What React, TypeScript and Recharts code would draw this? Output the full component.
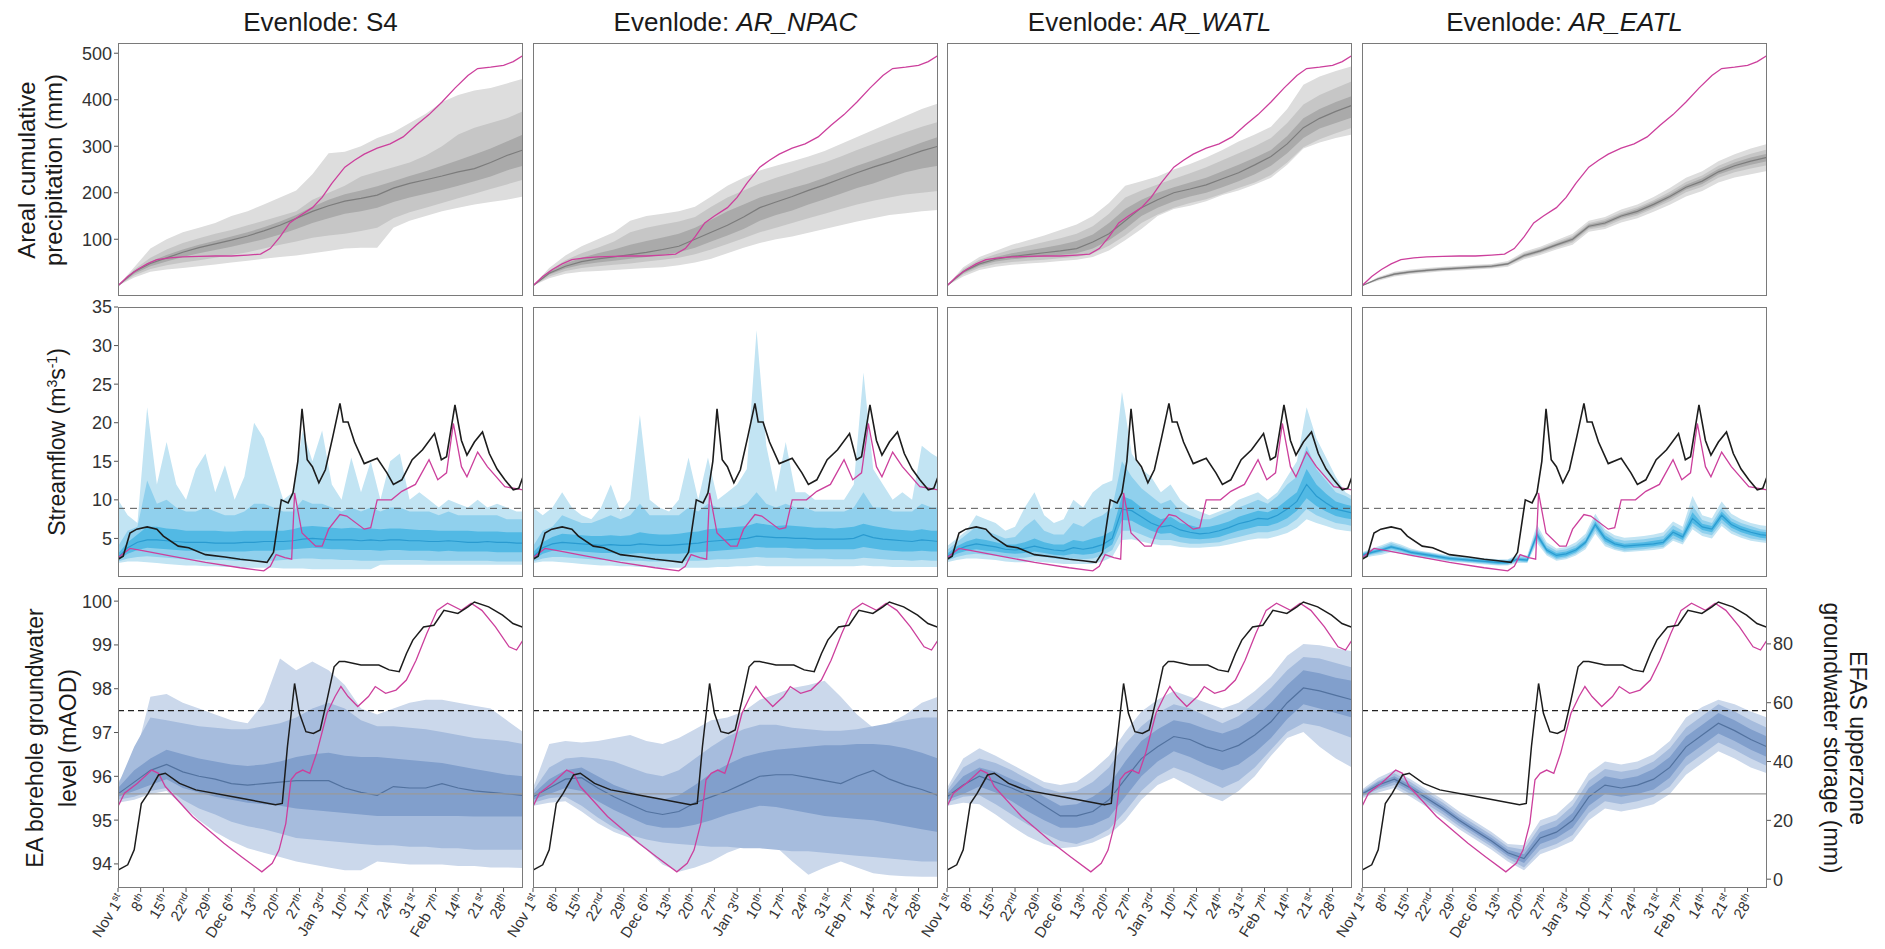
import React from 'react'
import { ComposedChart, Area, Line, XAxis, YAxis, ReferenceLine } from 'recharts'

// day 0 = Nov 1st
const days5 = [0,5,10,15,20,25,30,35,40,45,50,55,60,65,70,75,80,85,90,95,100,105,110,115,120,125]
const days3 = [0,3,6,9,12,15,18,21,24,27,30,33,36,39,42,45,48,51,54,57,60,63,66,69,72,75,78,81,84,87,90,93,96,99,102,105,108,111,114,117,120,123,125]

const tickDays = [0,7,14,21,28,35,42,49,56,63,70,77,84,91,98,105,112,119]
const tickMain = ['Nov 1','8','15','22','29','Dec 6','13','20','27','Jan 3','10','17','24','31','Feb 7','14','21','28']
const tickSup = ['st','th','th','nd','th','th','th','th','th','rd','th','th','th','st','th','th','st','th']

const models = ['S4', 'AR_NPAC', 'AR_WATL', 'AR_EATL']

// ---- areal cumulative precipitation (mm), 5-day steps
const pS4Max = [0,40,80,100,115,125,135,150,160,175,190,205,240,285,288,300,318,330,350,370,395,410,420,425,435,445]
const pS4P90 = [0,35,60,78,92,102,112,120,130,140,150,160,185,200,215,235,245,255,265,280,300,325,340,350,360,375]
const pS4P75 = [0,32,52,66,78,88,97,106,115,126,138,152,170,185,197,205,214,225,236,246,258,270,282,295,310,325]
const pS4Med = [0,30,48,60,72,82,90,98,107,118,130,145,160,172,182,188,195,210,220,228,236,245,252,265,280,292]
const pS4P25 = [0,26,42,52,62,70,77,84,92,100,110,122,135,145,155,160,168,180,190,198,206,215,225,235,248,258]
const pS4P10 = [0,22,36,44,50,55,60,66,72,80,88,95,103,108,112,118,125,145,158,168,178,188,198,208,218,228]
const pS4Min = [0,18,30,35,38,42,46,50,54,58,62,65,70,75,80,82,82,125,140,150,160,168,175,180,185,192]

const pNpMax = [0,38,65,85,100,115,140,150,155,160,170,192,215,232,248,258,268,278,290,305,320,335,350,365,380,392]
const pNpP90 = [0,33,55,70,82,95,115,125,132,138,148,170,190,205,220,232,243,255,265,278,292,305,318,330,342,352]
const pNpP75 = [0,30,48,60,70,78,88,96,104,112,125,142,160,175,190,200,210,220,232,245,258,270,282,295,308,320]
const pNpMed = [0,27,42,52,58,62,67,72,78,85,100,115,130,148,168,180,192,205,217,230,243,255,266,278,290,300]
const pNpP25 = [0,24,37,45,50,54,58,62,66,72,82,95,108,122,140,152,162,175,186,198,210,220,232,244,252,258]
const pNpP10 = [0,20,32,38,42,45,48,52,56,60,68,78,90,102,115,125,135,145,155,165,175,183,190,196,200,204]
const pNpMin = [0,16,26,30,32,34,36,38,40,44,50,58,70,82,92,100,106,114,122,130,138,145,152,156,160,163]

const pWaMax = [0,40,62,75,88,98,108,120,132,150,178,215,225,235,250,262,276,292,310,325,342,380,432,450,462,472]
const pWaP90 = [0,36,56,68,78,86,94,102,112,128,155,190,205,218,230,242,255,270,285,300,318,350,390,410,425,440]
const pWaP75 = [0,33,51,62,70,76,82,88,96,110,135,165,185,200,212,222,232,246,260,275,292,322,360,380,395,408]
const pWaMed = [0,30,47,57,63,67,71,75,80,94,112,140,168,185,200,208,217,230,243,260,278,305,340,360,375,388]
const pWaP25 = [0,27,43,52,57,60,63,66,70,80,98,122,150,168,182,192,200,212,225,240,258,285,318,338,350,362]
const pWaP10 = [0,24,39,47,51,54,56,59,62,70,86,108,135,153,168,178,186,198,210,222,238,265,298,315,328,340]
const pWaMin = [0,20,34,41,45,48,50,53,56,62,76,98,122,150,165,172,182,195,205,218,232,260,295,308,318,325]

const pEaMax = [0,19,30,35,38,41,43,45,47,53,73,84,98,112,140,148,164,175,191,210,232,246,268,283,295,305]
const pEaP90 = [0,17,28,33,36,39,41,43,45,50,70,80,94,107,135,143,158,169,184,202,223,237,258,272,284,293]
const pEaP75 = [0,16,27,32,35,38,40,42,44,49,68,78,91,104,132,139,154,165,180,197,217,231,251,265,276,284]
const pEaMed = [0,15,25,30,33,36,38,40,42,47,65,75,88,100,128,135,150,160,175,192,212,225,245,258,268,276]
const pEaP25 = [0,14,23,28,31,34,36,38,40,45,62,72,85,96,124,131,146,155,170,187,207,219,239,251,260,268]
const pEaP10 = [0,13,22,27,30,33,35,37,39,44,60,70,82,93,121,127,142,151,166,182,201,213,232,244,252,259]
const pEaMin = [0,11,20,25,28,31,33,35,37,41,57,66,78,88,116,122,136,145,159,174,192,204,222,233,240,247]

const precipObsDays = [0,3,6,9,12,16,20,25,30,35,40,44,47,50,53,56,60,63,66,70,73,76,80,84,88,92,96,100,104,108,111,115,119,122,125]
const precipObs = [0,20,35,47,56,60,62,63,64,64,66,68,80,105,135,150,168,190,220,255,270,283,296,305,320,345,368,395,425,452,467,470,474,482,495]

// ---- streamflow (m3/s), 3-day steps
const fS4Max = [10,8,7,22,12,17.5,12,10,14,16,11, 14.5,10,13,20,18,14,10,11,19,15,19, 12,10,15.5,11,15,10,15,16,10,11,10, 9,10,9.5,9,10,9,9.5,9,8.5,8.5]
const fS4P90 = [4,6,6.5,12.5,9.5,10,9,8.5,8.5,9,8.5, 8,8,8.5,9.5,9.5,9,8.5,8.5,10,9.5,9.5, 9,8.5,9,8.5,9,8.5,9,9,8.5,8.5,8.5, 8,8.5,8,8,8,8,8,7.5,7.5,7.5]
const fS4P75 = [3,4.5,5.5,6.5,6.5,6.3,6.2,6,6,6,6, 5.9,5.9,6,6,6,6,6,6.2,6.5,6.6,6.5, 6.4,6.3,6.4,6.3,6.3,6.2,6.3,6.3,6.2,6.1,6.1, 6,6,6,6,5.9,5.9,5.9,5.8,5.8,5.8]
const fS4Med = [2.5,3.8,4.5,4.8,4.8,4.7,4.6,4.5,4.5,4.5,4.4, 4.4,4.4,4.5,4.5,4.6,4.6,4.6,4.7,4.9,5,4.9, 4.8,4.8,4.8,4.7,4.8,4.7,4.8,4.8,4.7,4.7,4.6, 4.6,4.7,4.6,4.5,4.5,4.6,4.5,4.5,4.4,4.4]
const fS4P25 = [2.2,3,3.5,3.8,3.7,3.6,3.5,3.4,3.4,3.3,3.3, 3.3,3.3,3.3,3.4,3.4,3.4,3.5,3.6,3.7,3.8,3.7, 3.6,3.6,3.5,3.5,3.5,3.4,3.5,3.5,3.4,3.4,3.4, 3.3,3.4,3.3,3.3,3.3,3.3,3.2,3.2,3.2,3.2]
const fS4P10 = [2,2.4,2.6,2.7,2.6,2.5,2.4,2.3,2.3,2.2,2.2, 2.2,2.1,2.1,2.1,2.1,2.1,2.2,2.3,2.4,2.4,2.3, 2.3,2.2,2.2,2.1,2.1,2.1,2.2,2.2,2.2,2.2,2.1, 2.1,2.1,2.1,2.1,2.1,2.1,2,2,2,2]
const fS4Min = [1.8,2,2,1.9,1.8,1.7,1.6,1.5,1.5,1.4,1.4, 1.3,1.3,1.2,1.2,1.2,1.2,1.1,1.1,1.1,1,1, 1,1,1,1,1,1.6,1.6,1.6,1.6,1.6,1.6, 1.6,1.6,1.6,1.6,1.6,1.6,1.6,1.6,1.6,1.6]

const fNpMax = [9,8,9,11,9,8,7.5,9,12,8.5,10, 21,10,9,8.5,10,15.5,10,15.5,10,11,12, 14,32,17,11,17.5,11,11,10,10,10,10, 12,26.5,14,12,10,11,10,17,16,15.5]
const fNpP90 = [4,6,6.5,8,7.5,7,7,7.5,8,7.5,8, 9.5,8,8,8,8,9,8.5,9.5,9,9,9, 9.5,11,9.5,9,9.5,9,9,8.5,8.5,8.5,8.5, 9,11,9,9,8.5,8.5,8.5,9.5,9,9]
const fNpP75 = [3.2,4.5,5.2,5.6,5.5,5.4,5.3,5.3,5.4,5.3,5.4, 5.8,5.6,5.5,5.5,5.6,5.8,5.9,6.2,6.3,6.4,6.5, 6.6,7,6.8,6.6,6.7,6.6,6.5,6.4,6.4,6.3,6.4, 6.5,6.9,6.6,6.4,6.2,6.1,6,6.2,6,6]
const fNpMed = [2.6,3.8,4.3,4.5,4.4,4.3,4.2,4.1,4.2,4.1,4.1, 4.3,4.2,4.1,4.1,4.2,4.3,4.4,4.6,4.7,4.8,4.9, 5,5.3,5.2,5.1,5.1,5,5,4.9,4.9,4.9,4.9, 5,5.5,5.1,4.9,4.8,4.7,4.6,4.8,4.7,4.6]
const fNpP25 = [2.2,3,3.4,3.5,3.4,3.3,3.2,3.1,3.1,3,3, 3.1,3,3,3,3,3.1,3.2,3.3,3.4,3.5,3.6, 3.7,3.9,3.8,3.8,3.8,3.7,3.7,3.6,3.6,3.6,3.6, 3.6,3.9,3.7,3.5,3.4,3.3,3.3,3.4,3.3,3.3]
const fNpP10 = [2,2.4,2.6,2.6,2.5,2.4,2.3,2.2,2.2,2.1,2.1, 2.1,2,2,2,2,2.1,2.1,2.2,2.3,2.3,2.4, 2.5,2.6,2.5,2.5,2.5,2.4,2.4,2.4,2.4,2.3,2.3, 2.3,2.5,2.4,2.3,2.2,2.2,2.1,2.2,2.1,2.1]
const fNpMin = [1.8,2,2,1.9,1.8,1.7,1.6,1.5,1.5,1.4,1.4, 1.3,1.3,1.2,1.2,1.2,1.2,1.2,1.2,1.3,1.3,1.4, 1.4,1.5,1.4,1.4,1.4,1.4,1.4,1.4,1.4,1.4,1.4, 1.4,1.5,1.4,1.4,1.3,1.3,1.3,1.3,1.3,1.3]

const fWaMax = [4,5,6,8,7.5,7,6,6.5,9,11,8, 7,7.5,10,9,11,12,12.5,24,16,14,13, 11,12,10,9,8.5,8,8.5,9,10,10.5,11, 10,11,13,15,22,18,15.5,13,11,10.5]
const fWaP90 = [3.5,4.5,5.5,6.5,6,5.5,5,5.2,6.5,7.5,6, 5.5,5.5,7,6.5,7.5,8,9,15,13,11.5,10.5, 9.5,10,8.5,8,7.5,7.5,8,8.5,9,9.5,10, 9.5,10.5,12,13,17,14,12.5,11,10.5,10]
const fWaP75 = [3,4,4.6,5,4.8,4.5,4.2,4.2,4.5,5,4.5, 4.2,4.2,4.8,4.6,5,5.3,6,10.5,10,9,8.2, 7.5,7.8,7,6.7,6.4,6.5,6.8,7.2,7.8,8.2,8.6, 8.4,9,10,11,14,12,10.8,9.8,9.4,9.2]
const fWaMed = [2.6,3.5,4,4.3,4.1,3.9,3.6,3.5,3.7,4,3.7, 3.5,3.4,3.8,3.6,3.8,4.2,5,8.8,8.6,7.8,7, 6.5,6.7,6.1,5.8,5.6,5.7,6,6.4,6.9,7.2,7.6, 7.5,8,8.8,9.8,12,10.5,9.6,8.8,8.5,8.3]
const fWaP25 = [2.3,3,3.4,3.6,3.4,3.3,3.1,3,3.1,3.3,3.1, 2.9,2.8,3,2.9,3,3.4,4.2,7.4,7.3,6.6,6, 5.6,5.7,5.2,5,4.9,5,5.2,5.6,6,6.3,6.6, 6.6,7,7.6,8.6,10.2,9.2,8.5,7.9,7.6,7.5]
const fWaP10 = [2.1,2.6,2.9,3,2.9,2.8,2.6,2.5,2.5,2.7,2.6, 2.4,2.3,2.4,2.3,2.4,2.8,3.5,6,6,5.5,5, 4.8,4.8,4.5,4.3,4.3,4.4,4.5,4.9,5.2,5.5,5.8, 5.8,6.1,6.6,7.5,8.8,8,7.5,7,6.8,6.6]
const fWaMin = [1.9,2.2,2.4,2.4,2.3,2.2,2,1.9,1.9,2,1.9, 1.8,1.7,1.7,1.7,1.7,2,2.6,4.8,4.9,4.6,4.3, 4.1,4.1,3.9,3.8,3.8,3.9,4,4.2,4.5,4.8,5, 5,5.3,5.7,6.4,7.5,7,6.6,6.2,6,5.9]

const fEaMax = [3.2,3.7,4.1,4.6,4.2,3.7,3.4,3.2,3,2.8,2.7, 2.6,2.5,2.4,2.3,2.3,2.9,2.8,6.8,4.5,3.7,3.9, 4.5,5.6,8.2,6.2,5.4,5.1,5.2,5.3,5.5,5.8,7.2, 6.5,10.5,8,7.6,9.8,8.2,7.5,7,6.7,6.6]
const fEaP90 = [3.1,3.5,3.9,4.4,4,3.5,3.3,3.1,2.9,2.7,2.6, 2.5,2.4,2.3,2.2,2.2,2.7,2.6,6.3,4.1,3.4,3.6, 4.1,5.2,7.7,5.8,5,4.7,4.8,4.9,5.1,5.3,6.7, 6,9.3,7.4,7,9,7.6,7,6.6,6.2,6.1]
const fEaP75 = [3,3.4,3.7,4.1,3.8,3.4,3.2,3,2.8,2.6,2.5, 2.4,2.3,2.2,2.1,2.1,2.5,2.4,5.9,3.8,3.1,3.3, 3.8,4.8,7.2,5.4,4.6,4.3,4.4,4.5,4.7,4.9,6.2, 5.6,8.4,6.9,6.6,8.5,7.2,6.6,6.2,5.9,5.8]
const fEaMed = [2.8,3.2,3.5,3.9,3.6,3.2,3,2.8,2.6,2.4,2.3, 2.2,2.1,2,1.9,1.9,2.3,2.2,5.5,3.5,2.8,3, 3.5,4.5,6.8,5,4.3,4,4.1,4.2,4.3,4.5,5.8, 5.2,7.6,6.5,6.2,8,6.8,6.2,5.8,5.5,5.4]
const fEaP25 = [2.6,3,3.3,3.7,3.4,3,2.8,2.6,2.4,2.2,2.1, 2,1.9,1.8,1.7,1.7,2.1,2,5.1,3.2,2.5,2.7, 3.2,4.2,6.4,4.6,4,3.7,3.8,3.9,4,4.2,5.4, 4.8,7,6.1,5.8,7.5,6.4,5.8,5.4,5.1,5]
const fEaP10 = [2.5,2.9,3.1,3.5,3.2,2.9,2.7,2.5,2.3,2.1,2, 1.9,1.8,1.7,1.6,1.6,2,1.9,4.8,3,2.3,2.5, 3,3.9,6,4.3,3.7,3.4,3.5,3.6,3.8,3.9,5, 4.5,6.6,5.7,5.4,7,6,5.4,5,4.8,4.7]
const fEaMin = [2.4,2.7,2.9,3.2,3,2.7,2.5,2.3,2.2,2,1.9, 1.8,1.7,1.6,1.5,1.5,1.8,1.8,4.4,2.8,2.1,2.3, 2.8,3.6,5.6,4,3.5,3.2,3.3,3.4,3.5,3.7,4.7, 4.2,6.2,5.3,5,6.6,5.6,5.1,4.7,4.5,4.4]

const flowObsDays = [0,1.6,3.7,5.8,9,12,14,18.6,21.8,27,33,37.7,42,46,48,50.4,52.5,54,55.5,56.8,58.4,60,62,64,66.3,68.5,69.5,71,73,76,80,83,85,87.6,90.8,94,97.7,99.8,101.4,104,106,107.7,110,112.5,114.6,117,119.4,122,123.7,125]
const flowObs = [2.3,2.7,5.7,6.2,6.5,6.2,5.3,4,3.8,2.9,2.6,2.3,2.1,1.9,3.2,10,9.6,10.9,15,21.8,15.2,14.3,12.2,13.9,18.2,22.5,20.1,20.1,17.5,14.7,15.4,13.5,12,12.6,15.2,16.5,18.6,15.2,15.6,22.3,17.7,15.8,17.5,18.8,16,14,12.6,11.3,11.5,13]
const flowSimDays = [0,3.7,8,16.5,27,37.7,45,47,48.8,51.5,53.6,54.5,56.8,61,63,65,68.5,70.6,76,78,80,84.4,87.6,91.8,96,98.7,101.4,103.5,106,107.7,111,114,119.4,125]
const flowSim = [2.5,3.7,3.4,2.7,1.9,1.2,0.8,1.4,2.9,2.5,2.3,10.9,5.7,4,4,6.2,8.1,7.9,6.2,6.4,10,10,11.1,12,15.2,12.6,13.5,19.9,14.3,13,16.2,14.3,11.7,11.3]

// ---- groundwater: EFAS upperzone storage (mm, right axis), 5-day steps
const gS4Max = [33,40,62,63,60,58,56,54,53,60,75,71,74,71,66,58,56,58,60,61,61,60,59,58,54,50]
const gS4P90 = [32,45,55,54,53,52,51.5,51,51,52,53,55,58,60,58,54,52,52,51.5,51,50,49,48,47.5,47,46]
const gS4P75 = [31,37,41,44,42.5,41,40,39,38.5,39,40,41.5,42.5,43,42,41.5,41.5,41,40.5,40,39.5,38.5,37.5,36.5,35.5,35]
const gS4Med = [29,33,37,39,36.5,35,34,32.5,32,32.5,33,33.5,33.5,33.5,31,29.5,28.5,31.5,31,31,32.5,31,30,29.5,29,28.5]
const gS4P25 = [28,30,32,34,31,29.5,28,27,26,25.5,25,24,23.5,23,22.5,22,21.5,21.5,21.5,21.5,21.5,21.5,21.3,21.3,21.3,21.3]
const gS4P10 = [27,28,30,31,27,24,22,19.5,18,17,15.5,14,13.5,13,12.5,12,11.5,11.5,11,11,10.5,10.5,10,10,10,10]
const gS4Min = [26,27,29,30,25,20,16,13,10.5,9,7.5,6,5,4,3,3,6,5.5,5,5,5,4.5,4.5,4,4,3.8]

const gNpMax = [31,46,47,46.5,47,48,49,47,46,48,51,54,55,57,61,63,65,66,67.5,62,56,51.5,53,56,60,62]
const gNpP90 = [30,38,41,41.5,41,40,38,36,35,37,41,45,48.5,51,52.5,52.5,51.5,51,50.5,50.5,51,52,53,54,55,55]
const gNpP75 = [29,34,37,38,35,32,30,28,27,28.5,32,36,39,41.5,43,44,44.5,45,45.5,45.5,46,46,45.5,44.5,43,41]
const gNpMed = [28,31,34,34.5,31,28,25.5,23,22,23,26,28,30,32.5,35,35.5,35.5,34.5,33.5,32.5,35,37,34,32,30.5,28.5]
const gNpP25 = [27,29,31,30,26.5,23.5,21,18.5,17.5,17.5,18.5,20,22,23.5,25,24.5,23.5,22.5,21.5,21,20.5,20,19,18,17,16]
const gNpP10 = [26,27.5,28,25,21,17.5,15,13.5,12.5,12,11.5,11,11,10.5,10.5,10,9.5,9.5,9,8.5,8,7.5,7,6.5,6,6]
const gNpMin = [25,26,26.5,23,19,16,14,10,5,2.5,4,6,9,11,13,11,6,1.5,4,6,4,2,1.3,1,0.8,0.8]

const gWaMax = [31,41,44.5,42,39,36,33,32,33,37,42,50,57,61,64,62,60,58,60,64,69,76,80,79.5,78.5,77.5]
const gWaP90 = [30,38,41,39.5,37,34,31,29.5,30,33,38,46,52,56.5,59.5,58,55.5,53,55.5,60,65,71,75.5,75,73.5,72]
const gWaP75 = [29,35,38,36.5,34,31.5,28,25,25.5,28,32,40,47,51,54,53,51,49.5,51.5,55,60,66,71,70,68.5,67.5]
const gWaMed = [28,32,35,33,31,28.5,25,21.5,21.5,23,27,34,41,45,48.5,47.5,45,43.5,45.5,49,53.5,60,65,64,62.5,61]
const gWaP25 = [27,29,31.5,29.5,26.5,23,20,17.5,17.5,18.5,21,28,35,40,43.5,41.5,39,37,39,43,48,54.5,59.5,58,56.5,55]
const gWaP10 = [26,28,28.5,25.5,22,18.5,15.5,13,12,14,17,23,30,35,38,36,33.5,31,33.5,38,44,50,53,52,50,48]
const gWaMin = [25,26,25.5,22,18,14.5,12,10.5,11,12.5,15,20,27,32,34.5,31.5,28.5,26.5,30,35,42,48,50,45,41,38]

const gEaMax = [30.5,34.5,37,34,30.5,27,23,19.5,16,12,11.5,20,22,27,36,40,39,40,42.5,47,55,58.5,61,59.5,57,55]
const gEaP90 = [30,33.5,36,33,29.5,26,22,18.5,15,11,10,18,20,25,33.5,37.5,36.5,37.5,40,44.5,51.5,55.5,59.5,57,54,51.5]
const gEaP75 = [29.5,33,35,32,28.5,25,21,17.5,14,10,8.5,16,18,22.5,31,35,34,35,37.5,41.5,48.5,52.5,56.5,54,51,48.5]
const gEaMed = [29,32,34,31,27.5,24,20,16.5,13,9,7,14,16,20,28,32,31,32,34,38,45,49,53,50.5,47.5,45]
const gEaP25 = [28.5,31,33,30,26.5,23,19,15.5,12,8,5.5,12,14,17.5,25,29,28,29,30.5,34.5,41.5,45.5,49.5,47,44,41.5]
const gEaP10 = [28,30.5,32,29,25.5,22,18,14.5,11,7,4,10,12,15,22.5,26.5,25.5,26.5,28,31.5,38.5,42.5,46.5,44,41,38.5]
const gEaMin = [27.5,29.5,31,28,24.5,21,17,13.5,10,6,3,8.5,10.5,13,20,24,23,24,25.5,29,35.5,39.5,43.5,41,38,36]

// EA borehole level (mAOD, left axis) and EFAS reanalysis storage (mm, right axis)
const gwObsDays = [0,3,5,7.2,9.3,12.5,14.6,19,24,38,48.6,50.7,52.3,54.5,56,58,60.3,62.4,64.5,66.7,68.3,70,75,80.5,83.7,86.8,89,91,94.3,97.5,100.6,104.9,108,110,114.4,118.7,121.9,125]
const gwObs = [93.86,93.98,94.32,95.38,95.61,96.03,96.07,95.84,95.69,95.5,95.35,95.38,96.68,98.12,97.44,97.02,96.98,97.06,97.74,98.5,98.62,98.62,98.54,98.54,98.43,98.39,98.8,99.11,99.41,99.45,99.79,99.72,99.87,99.98,99.87,99.68,99.49,99.4]
const gwSimDays = [0,2,6,10.4,12.5,14.6,23,32.7,38,44.4,47.6,49.7,51.8,53.4,55,57,59.2,61.3,64.5,67,68.8,71,74,77.3,79.4,82.6,85.8,89,92,95.3,98.5,101.7,106,109,112.3,116.5,120.7,123,125]
const gwSim = [24.7,29.2,32.6,37.1,36,31.5,21.3,12.2,7.7,2.5,5.4,9.9,19,33.8,36,37.1,36,42.8,56.4,62.1,65.5,62.1,58.7,62.1,65.5,63.2,64.3,67.7,74.4,83.5,91.4,93.8,91.4,93.8,91.4,85.8,79,77.9,81.3]

const flowThreshold = 8.9
const gwThreshold = 97.5
const gwMean = 95.6

const MAGENTA = '#cc3f9c'
const BLACK = '#1c1c1c'

const PANEL_W = 405
const COL_X = [118, 533, 947, 1362]
const ROW_Y = [43, 307, 588]
const ROW_H = [253, 270, 300]
const AXIS_W = 60
const PAD_T = 15

const makeBands = (days: number[], s: number[][]) =>
  days.map((d, i) => ({
    day: d,
    outer: [s[0][i], s[6][i]],
    mid: [s[1][i], s[5][i]],
    inner: [s[2][i], s[4][i]],
    med: s[3][i],
  }))
const makeLine = (days: number[], vals: number[]) => days.map((d, i) => ({ day: d, v: vals[i] }))

const rows = [
  {
    days: days5,
    sets: [
      [pS4Min, pS4P10, pS4P25, pS4Med, pS4P75, pS4P90, pS4Max],
      [pNpMin, pNpP10, pNpP25, pNpMed, pNpP75, pNpP90, pNpMax],
      [pWaMin, pWaP10, pWaP25, pWaMed, pWaP75, pWaP90, pWaMax],
      [pEaMin, pEaP10, pEaP25, pEaMed, pEaP75, pEaP90, pEaMax],
    ],
    domain: [-22, 522],
    ticks: [100, 200, 300, 400, 500],
    fills: ['#dddddd', '#c6c6c6', '#aaaaaa', '#7c7c7c'],
  },
  {
    days: days3,
    sets: [
      [fS4Min, fS4P10, fS4P25, fS4Med, fS4P75, fS4P90, fS4Max],
      [fNpMin, fNpP10, fNpP25, fNpMed, fNpP75, fNpP90, fNpMax],
      [fWaMin, fWaP10, fWaP25, fWaMed, fWaP75, fWaP90, fWaMax],
      [fEaMin, fEaP10, fEaP25, fEaMed, fEaP75, fEaP90, fEaMax],
    ],
    domain: [0, 35],
    ticks: [5, 10, 15, 20, 25, 30, 35],
    fills: ['#c2e4f3', '#90d0ed', '#52b9e4', '#2a9bd0'],
  },
  {
    days: days5,
    sets: [
      [gS4Min, gS4P10, gS4P25, gS4Med, gS4P75, gS4P90, gS4Max],
      [gNpMin, gNpP10, gNpP25, gNpMed, gNpP75, gNpP90, gNpMax],
      [gWaMin, gWaP10, gWaP25, gWaMed, gWaP75, gWaP90, gWaMax],
      [gEaMin, gEaP10, gEaP25, gEaMed, gEaP75, gEaP90, gEaMax],
    ],
    domain: [93.45, 100.3],
    ticks: [94, 95, 96, 97, 98, 99, 100],
    fills: ['#cbd8eb', '#a6bcdd', '#819fcc', '#52729f'],
  },
]

function DateTick(props: any) {
  const { x, y, payload } = props
  const i = tickDays.indexOf(payload.value)
  return (
    <g transform={`translate(${x + 3},${y + 2})`}>
      <text transform="rotate(-58)" textAnchor="end" fontSize={15} fill="#333" dy={5}>
        {tickMain[i]}
        <tspan fontSize={10} dy={-6}>{tickSup[i]}</tspan>
      </text>
    </g>
  )
}

function Panel({ r, c }: { r: number; c: number }) {
  const spec = rows[r]
  const data = makeBands(spec.days, spec.sets[c])
  const h = ROW_H[r]
  const xh = r === 2 ? 80 : 10
  const bottomRow = r === 2
  const showRight = bottomRow && c === 3
  const ensAxis = bottomRow ? 'r' : 'l'
  const [f1, f2, f3, fm] = spec.fills
  return (
    <div style={{ position: 'absolute', left: COL_X[c] - AXIS_W, top: ROW_Y[r] - PAD_T }}>
      <ComposedChart
        width={AXIS_W + PANEL_W + (bottomRow ? AXIS_W : 10)}
        height={PAD_T + h + xh}
        data={data}
        margin={{ top: PAD_T, right: showRight ? 0 : bottomRow ? AXIS_W : 10, bottom: 0, left: 0 }}
      >
        <XAxis dataKey="day" type="number" domain={[0, 125]} ticks={tickDays} interval={0} allowDataOverflow
          height={xh} axisLine={false} tickSize={4} stroke="#555"
          tick={bottomRow ? <DateTick /> : false} />
        <YAxis yAxisId="l" type="number" domain={spec.domain} ticks={spec.ticks} allowDataOverflow
          width={AXIS_W} axisLine={false} tickSize={4} stroke="#555"
          tick={c === 0 ? { fontSize: 18, fill: '#333' } : false} />
        {bottomRow && (
          <YAxis yAxisId="r" orientation="right" type="number" domain={[-3, 99]} ticks={[0, 20, 40, 60, 80]}
            allowDataOverflow hide={!showRight} width={AXIS_W} axisLine={false} tickSize={4} stroke="#555"
            tick={{ fontSize: 18, fill: '#333' }} />
        )}
        <Area yAxisId={ensAxis} dataKey="outer" type="linear" fill={f1} fillOpacity={1} stroke="none" isAnimationActive={false} />
        <Area yAxisId={ensAxis} dataKey="mid" type="linear" fill={f2} fillOpacity={1} stroke="none" isAnimationActive={false} />
        <Area yAxisId={ensAxis} dataKey="inner" type="linear" fill={f3} fillOpacity={1} stroke="none" isAnimationActive={false} />
        <Line yAxisId={ensAxis} dataKey="med" type="linear" stroke={fm} strokeWidth={1.2} dot={false} isAnimationActive={false} />
        {r === 1 && <ReferenceLine yAxisId="l" y={flowThreshold} stroke="#555" strokeDasharray="7 5" strokeWidth={1} />}
        {bottomRow && <ReferenceLine yAxisId="l" y={gwMean} stroke="#9a9a9a" strokeWidth={1.2} />}
        {bottomRow && <ReferenceLine yAxisId="l" y={gwThreshold} stroke="#222" strokeDasharray="6 4" strokeWidth={1.4} />}
        {r === 0 && (
          <Line yAxisId="l" data={makeLine(precipObsDays, precipObs)} dataKey="v" type="linear" stroke={MAGENTA}
            strokeWidth={1.3} dot={false} isAnimationActive={false} />
        )}
        {r === 1 && (
          <Line yAxisId="l" data={makeLine(flowSimDays, flowSim)} dataKey="v" type="linear" stroke={MAGENTA}
            strokeWidth={1.3} dot={false} isAnimationActive={false} />
        )}
        {r === 1 && (
          <Line yAxisId="l" data={makeLine(flowObsDays, flowObs)} dataKey="v" type="linear" stroke={BLACK}
            strokeWidth={1.6} dot={false} isAnimationActive={false} />
        )}
        {bottomRow && (
          <Line yAxisId="r" data={makeLine(gwSimDays, gwSim)} dataKey="v" type="linear" stroke={MAGENTA}
            strokeWidth={1.3} dot={false} isAnimationActive={false} />
        )}
        {bottomRow && (
          <Line yAxisId="l" data={makeLine(gwObsDays, gwObs)} dataKey="v" type="linear" stroke={BLACK}
            strokeWidth={1.5} dot={false} isAnimationActive={false} />
        )}
      </ComposedChart>
    </div>
  )
}

const rotLabel = (text: React.ReactNode, cx: number, cy: number, deg: number, size = 23) => (
  <div style={{
    position: 'absolute', left: cx, top: cy, whiteSpace: 'nowrap', fontSize: size, color: '#1a1a1a',
    transform: `translate(-50%,-50%) rotate(${deg}deg)`,
  }}>{text}</div>
)

export default function App() {
  return (
    <div style={{ position: 'absolute', left: 0, top: 0, width: 1885, height: 949, background: '#fff',
      fontFamily: "'Liberation Sans', Arial, sans-serif" }}>
      {models.map((m, c) => (
        <div key={m} style={{ position: 'absolute', left: COL_X[c] + PANEL_W / 2, top: 22, transform: 'translate(-50%,-50%)',
          fontSize: 26, whiteSpace: 'nowrap', color: '#1a1a1a' }}>
          Evenlode: {c === 0 ? <span>{m}</span> : <i>{m}</i>}
        </div>
      ))}
      {[0, 1, 2].map(r => [0, 1, 2, 3].map(c => <Panel key={`${r}-${c}`} r={r} c={c} />))}
      {[0, 1, 2].map(r => [0, 1, 2, 3].map(c => (
        <div key={`f${r}-${c}`} style={{ position: 'absolute', left: COL_X[c], top: ROW_Y[r], width: PANEL_W, height: ROW_H[r],
          border: '1.5px solid #7a7a7a', boxSizing: 'border-box', pointerEvents: 'none' }} />
      )))}
      {rotLabel('Areal cumulative', 27, 170, -90, 24)}
      {rotLabel('precipitation (mm)', 54, 170, -90, 24)}
      {rotLabel(<span>Streamflow (m<sup style={{ fontSize: 14 }}>3</sup>s<sup style={{ fontSize: 14 }}>-1</sup>)</span>, 57, 442, -90)}
      {rotLabel('EA borehole groundwater', 35, 738, -90)}
      {rotLabel('level (mAOD)', 68, 738, -90)}
      {rotLabel('EFAS upperzone', 1857, 738, 90)}
      {rotLabel('groundwater storage (mm)', 1831, 738, 90)}
    </div>
  )
}
